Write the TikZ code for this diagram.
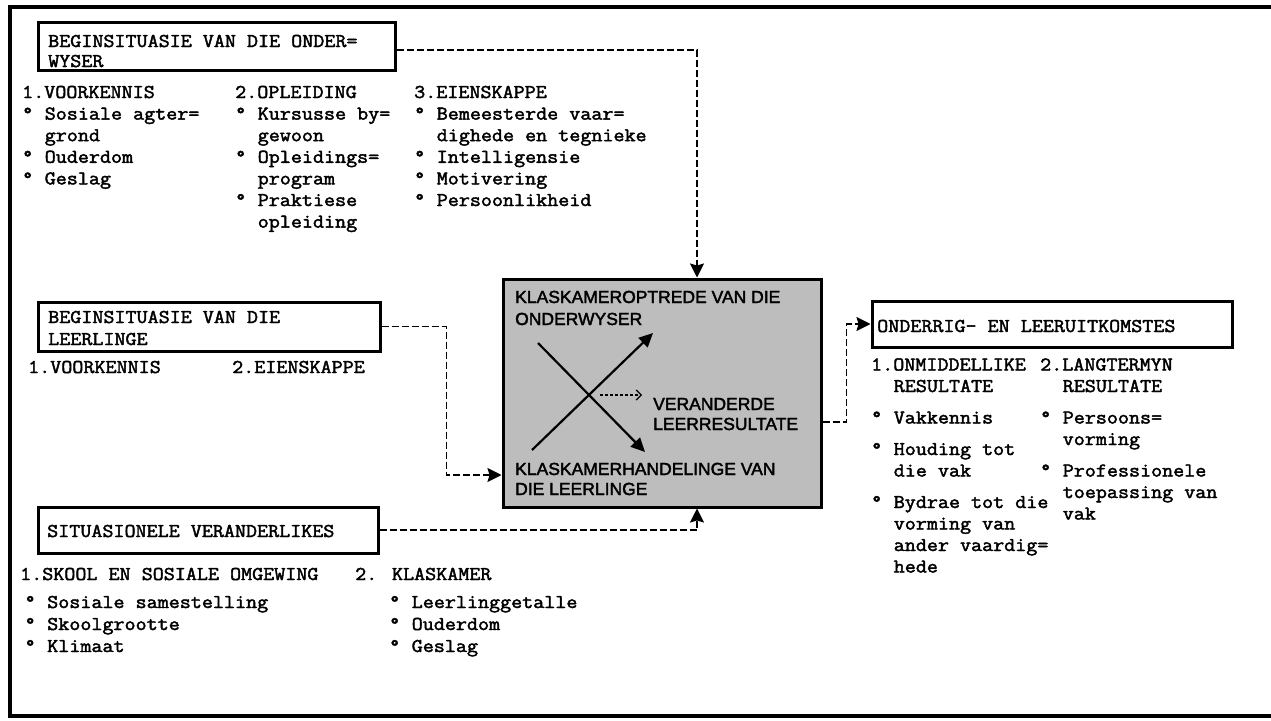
\documentclass[tikz,border=0pt]{standalone}
\usepackage{fontspec}
\usetikzlibrary{arrows.meta}
% typewriter text and the dot-matrix lettering of the central block
\newfontfamily\twfont[FakeBold=2.2,FakeStretch=1.1]{Latin Modern Mono}
\newfontfamily\dotfont[FakeBold=2.2]{Liberation Sans}
\newlength\tabw \setlength\tabw{22.56pt}
\newcommand\bu{\makebox[\tabw][l]{°}}
\newcommand\ii{\hspace*{\tabw}}
\newcommand\lines[1]{\parbox[t]{500pt}{\raggedright #1}}
\definecolor{shade}{gray}{0.74}

\begin{document}
\begin{tikzpicture}[x=1pt,y=-1pt,
  frame/.style={line width=3.5pt},
  tbox/.style={draw, line width=3pt, inner sep=0pt},
  tw/.style={anchor=base west, inner sep=0pt, font=\twfont\fontsize{19.5pt}{#1}\selectfont},
  tw/.default=21.6pt,
  dm/.style={anchor=base west, inner sep=0pt, font=\dotfont\fontsize{17.5pt}{#1}\selectfont},
  dm/.default=21pt,
  conn/.style={line width=1.7pt, dash pattern=on 7pt off 3pt,
    -{Stealth[length=14pt,width=14pt,inset=2pt]}},
  cross/.style={line width=2.2pt, -{Triangle[length=14pt,width=13pt]}},
  small/.style={line width=1.2pt, dash pattern=on 3pt off 2pt,
    -{Straight Barb[length=5pt,width=10pt]}}
]
\useasboundingbox (0,0) rectangle (1271,720);

% outer frame (open at the right-hand side)
\draw[frame] (1280,7) -- (10,7) -- (10,716) -- (1280,716);

% ---------- boxes ----------
\node[tbox, minimum width=357pt, minimum height=48pt] (b1) at (216.5,46) {};
\node[tbox, minimum width=342pt, minimum height=49pt] (b2) at (209,326.5) {};
\node[tbox, minimum width=340pt, minimum height=46pt] (b3) at (208,530) {};
\node[tbox, minimum width=360pt, minimum height=46pt] (b4) at (1052,324) {};
\node[tbox, fill=shade, minimum width=318pt, minimum height=228pt] (cb) at (662,393) {};

% ---------- box titles ----------
\node[tw=20pt] (t1) at (48,47) {\lines{BEGINSITUASIE VAN DIE ONDER=\\WYSER}};
\node[tw=22pt] (t2) at (48,323) {\lines{BEGINSITUASIE VAN DIE\\LEERLINGE}};
\node[tw] (t3) at (47,537) {SITUASIONELE VERANDERLIKES};
\node[tw] (t4) at (877,332) {ONDERRIG- EN LEERUITKOMSTES};

% ---------- teacher's starting situation ----------
\node[tw] (v1) at (22,98) {\lines{1.VOORKENNIS\\ \bu Sosiale agter=\\ \ii grond\\ \bu Ouderdom\\ \bu Geslag}};
\node[tw] (v2) at (235,98) {\lines{2.OPLEIDING\\ \bu Kursusse by=\\ \ii gewoon\\ \bu Opleidings=\\ \ii program\\ \bu Praktiese\\ \ii opleiding}};
\node[tw] (v3) at (414,98) {\lines{3.EIENSKAPPE\\ \bu Bemeesterde vaar=\\ \ii dighede en tegnieke\\ \bu Intelligensie\\ \bu Motivering\\ \bu Persoonlikheid}};

% ---------- pupils' starting situation ----------
\node[tw] (l1) at (28,373) {1.VOORKENNIS};
\node[tw] (l2) at (232,373) {2.EIENSKAPPE};

% ---------- situational variables ----------
\node[tw] (s1) at (20,580) {1.SKOOL EN SOSIALE OMGEWING};
\node[tw] (s2) at (355,580) {2. KLASKAMER};
\node[tw=22pt] (s3) at (24.5,608) {\lines{\bu Sosiale samestelling\\ \bu Skoolgrootte\\ \bu Klimaat}};
\node[tw=22pt] (s4) at (389,608) {\lines{\bu Leerlinggetalle\\ \bu Ouderdom\\ \bu Geslag}};

% ---------- outcomes ----------
\node[tw=21.5pt] (r1) at (871,370.5) {\lines{1.ONMIDDELLIKE\\ \ii RESULTATE\\[10pt] \bu Vakkennis\\[10pt] \bu Houding tot\\ \ii die vak\\[10pt] \bu Bydrae tot die\\ \ii vorming van\\ \ii ander vaardig=\\ \ii hede}};
\node[tw=21.5pt] (r2) at (1040,370.5) {\lines{2.LANGTERMYN\\ \ii RESULTATE\\[10pt] \bu Persoons=\\ \ii vorming\\[10pt] \bu Professionele\\ \ii toepassing van\\ \ii vak}};

% ---------- central block ----------
\node[dm=22pt] (k1) at (515,303) {\lines{KLASKAMEROPTREDE VAN DIE\\ONDERWYSER}};
\node[dm=20pt] (k2) at (653,410) {\lines{VERANDERDE\\LEERRESULTATE}};
\node[dm=20pt] (k3) at (515,475) {\lines{KLASKAMERHANDELINGE VAN\\DIE LEERLINGE}};

\coordinate (xa) at (538,343);
\coordinate (xb) at (645,452);
\coordinate (xc) at (532,450);
\coordinate (xd) at (653,333);
\draw[cross] (xa) -- (xb);
\draw[cross] (xc) -- (xd);
\coordinate (da) at (600,395);
\coordinate (db) at (642,395);
\draw[small] (da) -- (db);

% ---------- connectors ----------
\draw[conn] ([yshift=-4pt]b1.east) -| ([xshift=35pt]cb.north);
\draw[conn] (b2.east) -- ++(65,0) |- ([yshift=-82pt]cb.west);
\draw[conn] (b3.east) -| ([xshift=35pt]cb.south);
\draw[conn] ([yshift=-29pt]cb.east) -- ++(24,0) |- (b4.west);
\end{tikzpicture}
\end{document}
